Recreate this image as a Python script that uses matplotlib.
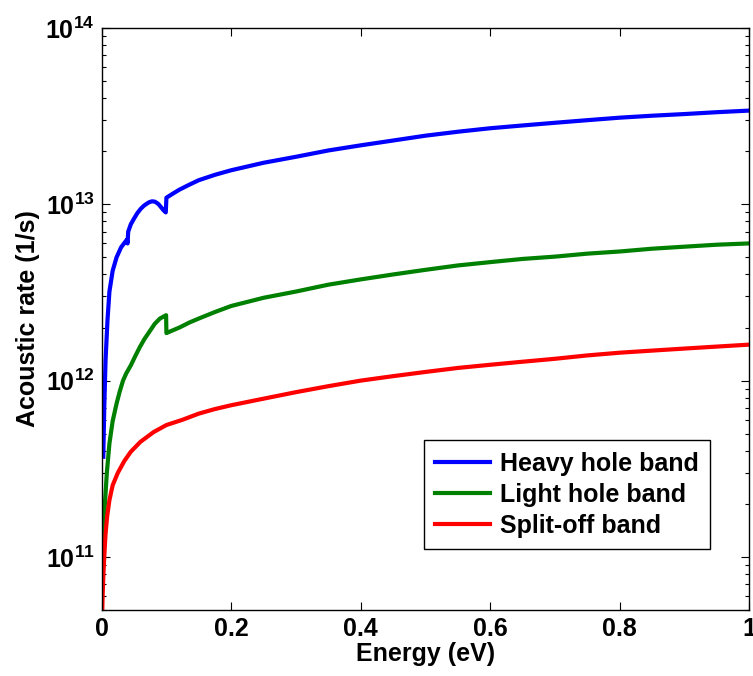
import matplotlib
matplotlib.use("Agg")
import matplotlib.pyplot as plt
from matplotlib.ticker import LogLocator

# ---------------------------------------------------------------------------
# Data
# ---------------------------------------------------------------------------
hh_energy = [0.0025, 0.004, 0.006, 0.009, 0.012, 0.017, 0.023, 0.030, 0.036,
             0.039, 0.040, 0.041, 0.045, 0.050, 0.055, 0.060, 0.065, 0.070,
             0.074, 0.078, 0.082, 0.085, 0.088, 0.092, 0.095, 0.099, 0.100,
             0.110, 0.120, 0.135, 0.150, 0.175, 0.200, 0.250, 0.300, 0.350,
             0.400, 0.450, 0.500, 0.550, 0.600, 0.650, 0.700, 0.750, 0.800,
             0.850, 0.900, 0.950, 1.000]
hh_rate = [3.7e11, 7.0e11, 1.3e12, 2.2e12, 3.2e12, 4.2e12, 5.0e12, 5.7e12, 6.1e12,
           6.3e12, 6.0e12, 7.0e12, 7.7e12, 8.3e12, 8.9e12, 9.4e12, 9.8e12, 1.01e13,
           1.03e13, 1.04e13, 1.035e13, 1.02e13, 1.0e13, 9.6e12, 9.3e12, 9.0e12, 1.09e13,
           1.15e13, 1.21e13, 1.29e13, 1.37e13, 1.47e13, 1.56e13, 1.72e13, 1.86e13, 2.02e13,
           2.16e13, 2.3e13, 2.45e13, 2.58e13, 2.7e13, 2.8e13, 2.9e13, 3.0e13, 3.1e13,
           3.18e13, 3.25e13, 3.33e13, 3.4e13]

lh_energy = [0.001, 0.002, 0.003, 0.005, 0.008, 0.012, 0.017, 0.023, 0.028,
             0.033, 0.038, 0.041, 0.045, 0.052, 0.059, 0.066, 0.074, 0.082,
             0.090, 0.0995, 0.100, 0.110, 0.120, 0.136, 0.150, 0.175, 0.200,
             0.250, 0.300, 0.350, 0.400, 0.450, 0.500, 0.550, 0.600, 0.650,
             0.700, 0.750, 0.800, 0.850, 0.900, 0.950, 1.000]
lh_rate = [9.0e10, 1.2e11, 1.5e11, 2.0e11, 3.0e11, 4.4e11, 5.9e11, 7.4e11, 8.7e11,
           1.0e12, 1.1e12, 1.15e12, 1.22e12, 1.38e12, 1.55e12, 1.72e12, 1.9e12, 2.1e12,
           2.25e12, 2.35e12, 1.86e12, 1.93e12, 2.0e12, 2.14e12, 2.25e12, 2.45e12, 2.65e12,
           2.95e12, 3.2e12, 3.5e12, 3.75e12, 4.0e12, 4.25e12, 4.5e12, 4.7e12, 4.9e12,
           5.05e12, 5.25e12, 5.4e12, 5.6e12, 5.75e12, 5.9e12, 6.0e12]

so_energy = [0.001, 0.0015, 0.0025, 0.004, 0.006, 0.0085, 0.012, 0.017, 0.025,
             0.035, 0.045, 0.060, 0.080, 0.100, 0.125, 0.150, 0.175, 0.200,
             0.250, 0.300, 0.350, 0.400, 0.450, 0.500, 0.550, 0.600, 0.650,
             0.700, 0.750, 0.800, 0.850, 0.900, 0.950, 1.000]
so_rate = [5.0e10, 6.0e10, 7.6e10, 1.0e11, 1.35e11, 1.7e11, 2.1e11, 2.55e11, 3.0e11,
           3.5e11, 3.95e11, 4.5e11, 5.1e11, 5.6e11, 6.0e11, 6.5e11, 6.9e11, 7.25e11,
           7.9e11, 8.6e11, 9.3e11, 1.0e12, 1.06e12, 1.12e12, 1.18e12, 1.23e12, 1.28e12,
           1.33e12, 1.39e12, 1.44e12, 1.48e12, 1.52e12, 1.56e12, 1.6e12]

labels = ["Heavy hole band", "Light hole band", "Split-off band"]
colors = ["#0000ff", "#008000", "#ff0000"]
x_ticks = [0, 0.2, 0.4, 0.6, 0.8, 1]
x_ticklabels = ["0", "0.2", "0.4", "0.6", "0.8", "1"]


def main():
    plt.rcParams["font.family"] = ["Liberation Sans", "DejaVu Sans"]
    plt.rcParams["font.weight"] = "bold"
    plt.rcParams["mathtext.fontset"] = "custom"
    plt.rcParams["mathtext.rm"] = "Liberation Sans:bold"
    plt.rcParams["mathtext.default"] = "rm"

    fig = plt.figure(figsize=(7.53, 6.76), dpi=100)
    ax = fig.add_axes([0.135, 0.0976, 0.86, 0.861])

    for x, y, c, lab in zip([hh_energy, lh_energy, so_energy],
                            [hh_rate, lh_rate, so_rate], colors, labels):
        ax.plot(x, y, color=c, lw=3, label=lab, solid_joinstyle="round")

    ax.set_yscale("log")
    ax.set_xlim(0, 1)
    ax.set_ylim(5e10, 1e14)
    ax.set_xticks(x_ticks)
    ax.set_xticklabels(x_ticklabels)
    ax.yaxis.set_major_locator(LogLocator(base=10, numticks=10))
    ax.yaxis.set_minor_locator(LogLocator(base=10, subs=range(2, 10), numticks=20))

    ax.tick_params(which="both", direction="in", top=True, right=True,
                   labelsize=18, width=0.8)
    ax.tick_params(which="major", length=6, pad=5)
    ax.tick_params(which="minor", length=3)
    for sp in ax.spines.values():
        sp.set_linewidth(1.0)

    ax.set_xlabel("Energy (eV)", fontsize=18, fontweight="bold", labelpad=1)
    ax.set_ylabel("Acoustic rate (1/s)", fontsize=18, fontweight="bold", labelpad=4)

    leg = ax.legend(loc="lower right", bbox_to_anchor=(0.94, 0.105),
                    borderaxespad=0, fontsize=18, handlelength=2.2,
                    fancybox=False, edgecolor="black", framealpha=1,
                    labelspacing=0.28, borderpad=0.45, handletextpad=0.4)
    leg.get_frame().set_linewidth(1.0)

    fig.savefig("out.png", dpi=100)
    plt.close(fig)


if __name__ == "__main__":
    main()
